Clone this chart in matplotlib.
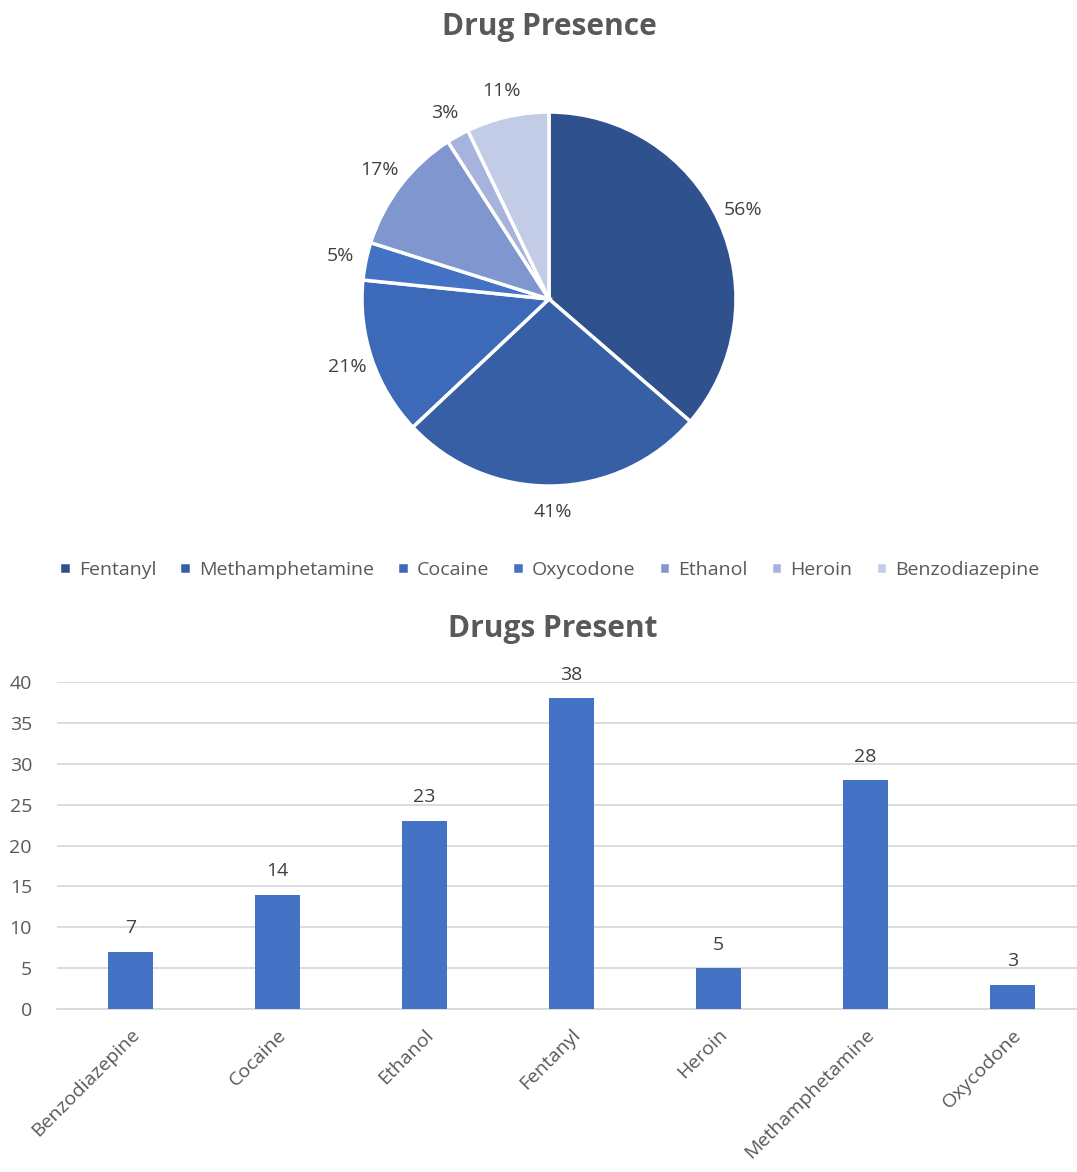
import matplotlib.pyplot as plt

plt.rcParams['font.family'] = ['Open Sans', 'DejaVu Sans']

# pie data (legend order)
pie_drugs = ['Fentanyl', 'Methamphetamine', 'Cocaine', 'Oxycodone', 'Ethanol', 'Heroin', 'Benzodiazepine']
pie_pct = [56, 41, 21, 5, 17, 3, 11]
pie_colors = ['#2F528F', '#365FA5', '#3C69B8', '#4472C4', '#8096CF', '#A6B4DD', '#C3CCE7']

# bar data
bar_drugs = ['Benzodiazepine', 'Cocaine', 'Ethanol', 'Fentanyl', 'Heroin', 'Methamphetamine', 'Oxycodone']
bar_counts = [7, 14, 23, 38, 5, 28, 3]

text_col = '#595959'
fig = plt.figure(figsize=(10.77, 11.72), dpi=100)

# ---- pie
ax1 = fig.add_axes([0.3361, 0.5853, 0.3473, 0.3191])
wedges, texts = ax1.pie(pie_pct, colors=pie_colors, startangle=90, counterclock=False,
                        labels=[f'{p}%' for p in pie_pct], labeldistance=1.14,
                        wedgeprops=dict(edgecolor='white', linewidth=2.5),
                        textprops=dict(fontsize=14, color='#404040'))
for t in texts:
    t.set_ha('center')
    t.set_va('center')
ax1.set_xlim(-1, 1)
ax1.set_ylim(-1, 1)
ax1.set_aspect('equal')
fig.text(0.51, 0.977, 'Drug Presence', ha='center', va='center', fontsize=21.5,
         fontweight='bold', color=text_col)

fig.legend(wedges, pie_drugs, loc='center', bbox_to_anchor=(0.51, 0.5137), ncol=7,
           frameon=False, fontsize=14, labelcolor=text_col, handlelength=0.6,
           handleheight=0.6, handletextpad=0.4, columnspacing=1.2)

# ---- bars
ax2 = fig.add_axes([0.0529, 0.139, 0.9554, 0.279])
x = range(len(bar_drugs))
bars = ax2.bar(x, bar_counts, width=0.31, color='#4472C4', zorder=3)
for b, v in zip(bars, bar_counts):
    ax2.annotate(str(v), (b.get_x() + b.get_width() / 2, v), xytext=(0, 17),
                 textcoords='offset points', ha='center', va='center',
                 fontsize=14, color='#404040')
ax2.set_xlim(-0.5, len(bar_drugs) - 0.5)
ax2.set_ylim(0, 40)
ax2.set_yticks(range(0, 41, 5))
ax2.set_xticks(list(x))
ax2.set_xticklabels(bar_drugs, rotation=45, ha='right', rotation_mode='anchor')
ax2.tick_params(length=0, labelsize=14, labelcolor=text_col)
ax2.tick_params(axis='x', pad=12)
ax2.tick_params(axis='y', pad=18)
ax2.grid(axis='y', color='#D9D9D9', linewidth=1.3, zorder=0)
for s in ['top', 'right', 'left']:
    ax2.spines[s].set_visible(False)
ax2.spines['bottom'].set_color('#D9D9D9')
ax2.spines['bottom'].set_linewidth(1.3)
fig.text(0.513, 0.463, 'Drugs Present', ha='center', va='center', fontsize=21.5,
         fontweight='bold', color=text_col)

fig.savefig('out.png', dpi=100)
